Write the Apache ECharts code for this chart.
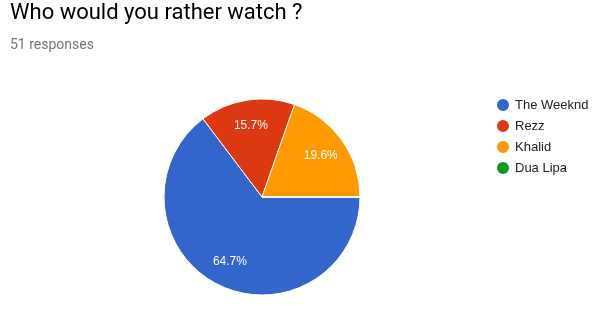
<!DOCTYPE html>
<html>
<head>
<meta charset="utf-8">
<script src="https://cdn.jsdelivr.net/npm/echarts@6/dist/echarts.min.js"></script>
<style>html,body{margin:0;padding:0;background:#fff}#c{width:603px;height:311px}</style>
</head>
<body>
<div id="c"></div>
<script>
const titleText = 'Who would you rather watch ?';
const subText = '51 responses';
const categories = ['The Weeknd', 'Rezz', 'Khalid', 'Dua Lipa'];
const counts = [33, 8, 10, 0];
const colors = ['#3366CC', '#DC3912', '#FF9900', '#109618'];

const total = counts.reduce((a, b) => a + b, 0);
const data = categories.map((n, i) => ({ name: n, value: counts[i], itemStyle: { color: colors[i] } }));

const chart = echarts.init(document.getElementById('c'), null, { renderer: 'canvas' });
chart.setOption({
  animation: false,
  title: {
    text: titleText,
    subtext: subText,
    left: 10, top: 2, padding: 0, itemGap: 14,
    textStyle: { fontFamily: 'Roboto', fontSize: 22, fontWeight: 'normal', color: '#000' },
    subtextStyle: { fontFamily: 'Roboto', fontSize: 14, color: '#757575' }
  },
  legend: {
    orient: 'vertical', left: 495, top: 97, padding: 0, icon: 'circle',
    itemWidth: 14, itemHeight: 14, itemGap: 5,
    textStyle: { fontFamily: 'Liberation Sans', fontSize: 13, color: '#222' },
    data: categories
  },
  series: [{
    type: 'pie', center: [262, 197], radius: [0, 98], startAngle: 0, clockwise: true,
    silent: true, avoidLabelOverlap: false,
    itemStyle: { borderColor: '#fff', borderWidth: 1 },
    label: { show: false }, labelLine: { show: false },
    data: data
  }, {
    type: 'pie', center: [262, 197], radius: [40, 98], startAngle: 0, clockwise: true,
    silent: true, avoidLabelOverlap: false, legendHoverLink: false,
    itemStyle: { color: 'rgba(0,0,0,0)', borderWidth: 0 },
    label: {
      show: true, position: 'inside', color: '#fff',
      fontFamily: 'Liberation Sans', fontSize: 12,
      formatter: p => p.value > 0 ? (p.value / total * 100).toFixed(1) + '%' : ''
    },
    labelLine: { show: false },
    data: categories.map((n, i) => ({ name: n + ' ', value: counts[i] }))
  }]
});
</script>
</body>
</html>
